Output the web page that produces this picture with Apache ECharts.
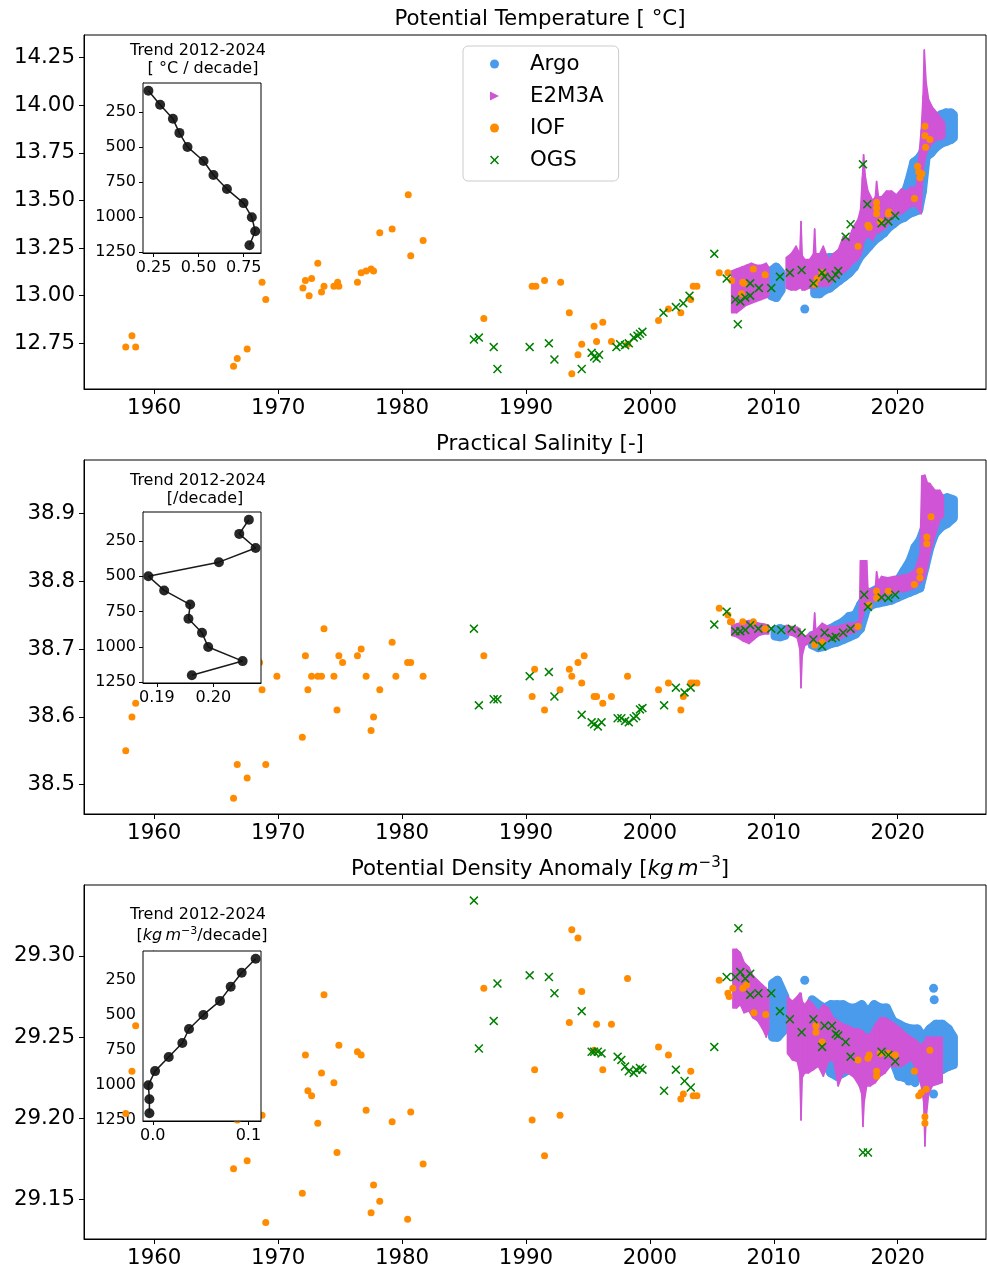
<!DOCTYPE html>
<html><head><meta charset="utf-8">
<script src="https://cdn.jsdelivr.net/npm/echarts@6/dist/echarts.min.js"></script>
<style>html,body{margin:0;padding:0;background:#fff}#c{width:987px;height:1271px}</style>
</head><body><div id="c"></div>
<script>
// ---------- tick labels ----------
const xTicks = [1960, 1970, 1980, 1990, 2000, 2010, 2020];
const tempTicks = [12.75, 13.00, 13.25, 13.50, 13.75, 14.00, 14.25];
const salTicks = [38.5, 38.6, 38.7, 38.8, 38.9];
const densTicks = [29.15, 29.20, 29.25, 29.30];
const depthTicks = [250, 500, 750, 1000, 1250];
const tempTrendTicks = [0.25, 0.50, 0.75];
const salTrendTicks = [0.19, 0.20];
const densTrendTicks = [0.0, 0.1];

// ---------- inset trend profiles ----------
const trendDepths = [100, 200, 300, 400, 500, 600, 700, 800, 900, 1000, 1100, 1200];
const tempTrend = [0.221, 0.286, 0.357, 0.393, 0.438, 0.527, 0.582, 0.657, 0.749, 0.795, 0.814, 0.782];
const salTrend = [0.2063, 0.2046, 0.2075, 0.2010, 0.1885, 0.1913, 0.1959, 0.1956, 0.1980, 0.1991, 0.2052, 0.1962];
const densTrend = [0.1076, 0.0930, 0.0815, 0.0703, 0.0529, 0.0379, 0.0309, 0.0167, 0.0024, -0.0046, -0.0035, -0.0035];

// ---------- Potential temperature ----------
const tempIOF = [[1957.7,12.73],[1958.2,12.79],[1958.5,12.73],[1966.4,12.63],[1966.7,12.67],[1967.5,12.72],
 [1968.7,13.07],[1969.0,12.98],[1972.0,13.04],[1972.2,13.08],[1972.5,13.00],[1972.7,13.09],[1973.2,13.17],[1973.5,13.02],[1973.7,13.05],
 [1974.5,13.05],[1974.8,13.07],[1974.9,13.05],[1976.4,13.07],[1976.7,13.12],[1977.1,13.13],[1977.5,13.14],[1977.7,13.13],
 [1978.2,13.33],[1979.2,13.35],[1980.5,13.53],[1980.7,13.21],[1981.7,13.29],[1986.6,12.88],
 [1990.5,13.05],[1990.8,13.05],[1991.5,13.08],[1992.8,13.07],[1993.5,12.91],[1993.7,12.59],[1994.2,12.69],[1994.5,12.745],
 [1995.5,12.84],[1995.7,12.76],[1996.2,12.86],[1996.9,12.76],[1998.2,12.745],
 [2000.7,12.87],[2001.5,12.93],[2002.5,12.91],[2003.3,12.98],[2003.5,13.05],[2003.8,13.05],
 [2005.6,13.12],[2006.3,13.12],[2006.6,13.08],[2007.4,13.01],[2007.5,13.07],[2007.6,13.065],[2008.35,13.14],[2009.3,13.11],
 [2013.3,13.06],[2013.5,13.09],[2013.9,13.12],[2016.8,13.26],[2017.6,13.37],[2017.7,13.36],
 [2018.3,13.43],[2018.3,13.46],[2018.3,13.49],[2018.6,13.39],[2019.25,13.43],[2019.3,13.44],
 [2021.35,13.51],[2021.6,13.68],[2021.7,13.65],[2021.8,13.62],[2021.95,13.64],
 [2022.2,13.89],[2022.2,13.84],[2022.25,13.78],[2022.6,13.82]];
const tempOGS = [[1985.8,12.77],[1986.2,12.78],[1987.4,12.73],[1987.7,12.615],[1990.3,12.73],[1991.85,12.75],[1992.3,12.665],
 [1994.5,12.615],[1995.3,12.70],[1995.5,12.68],[1995.7,12.67],[1995.9,12.69],
 [1997.3,12.73],[1997.6,12.745],[1998.0,12.74],[1998.3,12.75],[1998.7,12.78],[1999.0,12.79],[1999.2,12.80],[1999.4,12.81],
 [2001.1,12.91],[2002.1,12.94],[2002.7,12.96],[2003.2,13.00],
 [2005.2,13.22],[2006.2,13.09],[2006.9,12.98],[2007.1,12.85],[2007.3,12.97],[2007.7,12.99],[2008.1,13.00],[2008.1,13.065],[2008.8,13.04],[2009.8,13.04],
 [2010.5,13.10],[2011.3,13.12],[2012.25,13.135],
 [2013.2,13.065],[2013.9,13.12],[2014.1,13.10],[2014.7,13.09],[2015.0,13.11],[2015.2,13.13],
 [2015.8,13.31],[2016.2,13.375],[2017.2,13.69],[2017.55,13.48],[2018.7,13.38],[2019.25,13.39],[2019.8,13.42]];
const tempArgo = [[2009.8,13.00,13.13],[2010.2,12.99,13.15],[2010.6,13.03,13.12],
 [2013.3,13.01,13.10],[2013.7,13.01,13.10],[2014.1,13.03,13.12],[2014.5,13.04,13.20],[2014.9,13.06,13.20],[2015.3,13.08,13.22],
 [2015.7,13.10,13.24],[2016.1,13.12,13.25],[2016.5,13.15,13.28],[2016.9,13.20,13.32],[2017.3,13.23,13.35],[2017.7,13.26,13.38],
 [2018.1,13.29,13.40],[2018.5,13.31,13.42],[2018.9,13.33,13.44],[2019.3,13.36,13.46],[2019.7,13.38,13.48],[2020.1,13.40,13.50],
 [2020.5,13.41,13.52],[2020.9,13.43,13.60],[2021.3,13.44,13.70],[2021.7,13.45,13.72],[2022.0,13.55,13.75],[2022.3,13.73,13.80],
 [2022.7,13.75,13.88],[2023.1,13.78,13.92],[2023.5,13.80,13.95],[2023.9,13.81,13.96],[2024.3,13.82,13.96],[2024.5,13.83,13.95]];
const tempArgoPts = [[2012.5,12.93]];
const tempE2M3A = [[2006.6,12.91,13.13],[2007.0,12.91,13.14],[2007.4,12.93,13.15],[2007.8,12.95,13.16],[2008.2,12.96,13.17],
 [2008.6,12.97,13.16],[2009.0,12.98,13.16],[2009.4,12.99,13.17],[2009.6,13.00,13.15],
 [2011.0,13.04,13.20],[2011.4,13.03,13.22],[2011.8,13.03,13.26],[2012.1,13.04,13.22],[2012.2,13.04,13.39],[2012.3,13.03,13.21],
 [2012.5,13.03,13.19],[2012.9,13.04,13.19],[2013.2,13.04,13.22],[2013.3,13.04,13.35],[2013.4,13.05,13.22],[2013.7,13.05,13.22],
 [2014.0,13.05,13.26],[2014.4,13.05,13.19],[2014.8,13.08,13.22],[2015.2,13.10,13.24],
 [2015.6,13.12,13.31],[2016.0,13.14,13.29],[2016.4,13.17,13.36],[2016.8,13.19,13.40],[2017.0,13.21,13.45],[2017.15,13.24,13.62],
 [2017.25,13.28,13.74],[2017.4,13.30,13.62],[2017.6,13.31,13.55],[2018.0,13.29,13.50],[2018.2,13.32,13.52],[2018.3,13.33,13.60],
 [2018.45,13.33,13.52],[2018.7,13.34,13.52],[2019.1,13.36,13.55],[2019.5,13.40,13.55],
 [2019.9,13.42,13.53],[2020.3,13.43,13.56],[2020.7,13.45,13.55],[2021.1,13.47,13.57],[2021.5,13.47,13.57],[2021.9,13.43,13.87],
 [2022.05,13.65,14.05],[2022.15,13.70,14.29],[2022.3,13.74,14.12],[2022.5,13.77,14.03],[2022.8,13.80,13.99],[2023.2,13.82,13.96],
 [2023.5,13.82,13.93],[2023.8,13.83,13.91]];

// ---------- Practical salinity ----------
const salIOF = [[1957.7,38.55],[1958.2,38.60],[1958.5,38.62],[1966.4,38.48],[1966.7,38.53],[1967.5,38.51],[1968.5,38.68],[1968.7,38.64],[1969.0,38.53],[1969.9,38.66],
 [1971.95,38.57],[1972.2,38.69],[1972.4,38.64],[1972.7,38.66],[1973.2,38.66],[1973.5,38.66],[1973.7,38.73],
 [1974.5,38.66],[1974.75,38.61],[1974.9,38.69],[1975.2,38.68],[1976.4,38.69],[1976.7,38.70],[1977.1,38.66],[1977.5,38.58],[1977.7,38.60],[1978.2,38.64],
 [1979.2,38.71],[1979.5,38.66],[1980.45,38.68],[1980.7,38.68],[1981.7,38.66],[1986.6,38.69],
 [1990.5,38.63],[1990.7,38.67],[1991.5,38.61],[1992.75,38.64],[1993.5,38.67],[1993.7,38.66],[1994.2,38.68],[1994.5,38.65],[1994.7,38.69],
 [1995.5,38.63],[1995.7,38.63],[1996.2,38.62],[1996.9,38.63],[1998.2,38.66],
 [2000.7,38.64],[2001.5,38.65],[2002.5,38.61],[2002.7,38.63],[2003.3,38.65],[2003.5,38.65],[2003.8,38.65],
 [2005.6,38.76],[2006.3,38.75],[2006.5,38.74],[2006.6,38.74],[2007.5,38.74],[2008.35,38.74],[2009.3,38.73],
 [2013.3,38.706],[2013.9,38.71],[2016.8,38.733],[2017.7,38.765],[2018.3,38.775],[2018.3,38.785],[2019.25,38.785],[2021.35,38.795],
 [2021.8,38.805],[2021.8,38.815],[2022.35,38.855],[2022.35,38.865],[2022.7,38.895]];
const salOGS = [[1985.8,38.73],[1986.2,38.617],[1987.4,38.626],[1987.7,38.626],[1990.3,38.66],[1991.85,38.666],[1992.3,38.63],
 [1994.5,38.603],[1995.3,38.592],[1995.5,38.589],[1995.8,38.586],[1996.1,38.592],
 [1997.4,38.598],[1997.7,38.598],[1998.0,38.594],[1998.3,38.592],[1998.7,38.598],[1998.9,38.601],[1999.2,38.611],[1999.4,38.613],
 [2001.15,38.617],[2002.1,38.643],[2002.8,38.636],[2003.3,38.643],
 [2005.2,38.736],[2006.2,38.755],[2006.9,38.726],[2007.3,38.726],[2007.7,38.728],[2008.1,38.735],[2008.76,38.73],[2009.8,38.73],[2010.6,38.728],[2011.45,38.73],[2012.25,38.724],
 [2013.2,38.714],[2013.9,38.704],[2014.1,38.724],[2014.7,38.716],[2015.0,38.718],[2015.6,38.724],[2016.2,38.73],
 [2017.3,38.78],[2017.6,38.762],[2018.7,38.776],[2019.25,38.775],[2019.8,38.78]];
const salArgo = [[2010.1,38.719,38.728],[2010.5,38.718,38.73],[2010.9,38.72,38.728],
 [2013.1,38.706,38.72],[2013.6,38.702,38.722],[2014.1,38.704,38.726],[2014.6,38.708,38.73],[2015.1,38.71,38.735],[2015.6,38.714,38.74],
 [2016.1,38.718,38.748],[2016.6,38.722,38.75],[2017.0,38.73,38.765],[2017.5,38.76,38.78],[2018.0,38.766,38.785],[2018.5,38.768,38.79],
 [2019.0,38.77,38.79],[2019.5,38.772,38.795],[2020.0,38.776,38.80],[2020.5,38.78,38.815],[2021.0,38.784,38.83],[2021.4,38.787,38.85],
 [2021.8,38.79,38.86],[2022.2,38.82,38.88],[2022.6,38.85,38.90],[2023.0,38.87,38.915],[2023.5,38.88,38.92],[2024.0,38.885,38.923],[2024.5,38.893,38.92]];
const salArgoPts = [];
const salE2M3A = [[2006.6,38.72,38.735],[2007.0,38.718,38.737],[2007.5,38.712,38.74],[2008.0,38.708,38.742],[2008.4,38.714,38.74],
 [2008.8,38.72,38.738],[2009.2,38.722,38.737],[2009.6,38.722,38.735],
 [2011.0,38.722,38.735],[2011.5,38.72,38.733],[2011.9,38.716,38.732],[2012.1,38.70,38.73],[2012.2,38.643,38.725],[2012.3,38.69,38.72],
 [2012.5,38.705,38.718],[2012.8,38.708,38.722],[2013.2,38.712,38.726],[2013.3,38.712,38.753],[2013.4,38.712,38.728],[2013.9,38.71,38.738],
 [2014.4,38.712,38.733],[2015.0,38.714,38.733],[2015.5,38.716,38.735],[2016.0,38.722,38.738],[2016.5,38.724,38.738],[2016.9,38.73,38.742],
 [2017.0,38.735,38.83],[2017.5,38.77,38.83],[2017.6,38.768,38.79],[2017.9,38.768,38.787],[2018.2,38.772,38.79],[2018.3,38.772,38.814],
 [2018.45,38.772,38.80],[2018.7,38.772,38.807],[2019.2,38.78,38.805],[2019.7,38.782,38.807],[2020.2,38.784,38.808],
 [2020.8,38.786,38.81],[2021.4,38.79,38.817],[2021.8,38.797,38.84],[2021.95,38.80,38.955],[2022.2,38.805,38.956],[2022.4,38.82,38.945],
 [2022.6,38.84,38.944],[2023.0,38.866,38.934],[2023.4,38.89,38.934],[2023.7,38.895,38.925]];

// ---------- Potential density anomaly ----------
const densIOF = [[1957.7,29.203],[1958.2,29.229],[1958.5,29.257],[1966.4,29.169],[1966.7,29.199],[1967.5,29.174],[1968.7,29.202],[1969.0,29.136],
 [1971.95,29.154],[1972.2,29.239],[1972.4,29.217],[1972.7,29.214],[1973.2,29.197],[1973.5,29.228],[1973.7,29.276],
 [1974.5,29.222],[1974.75,29.179],[1974.9,29.245],[1976.4,29.241],[1976.7,29.239],[1977.1,29.205],[1977.5,29.142],[1977.7,29.159],[1978.2,29.149],
 [1979.2,29.198],[1980.45,29.138],[1980.7,29.204],[1981.7,29.172],[1986.6,29.28],
 [1990.5,29.199],[1990.7,29.23],[1991.5,29.177],[1992.75,29.202],[1993.5,29.259],[1993.7,29.316],[1994.2,29.311],[1994.5,29.278],
 [1995.5,29.242],[1995.7,29.258],[1996.2,29.23],[1996.9,29.258],[1998.2,29.286],
 [2000.7,29.244],[2001.5,29.239],[2002.5,29.212],[2002.7,29.215],[2003.3,29.229],[2003.5,29.214],[2003.8,29.214],
 [2005.6,29.285],[2006.3,29.277],[2006.4,29.275],[2006.7,29.28],[2007.5,29.28],[2007.8,29.282],[2008.4,29.265],[2009.35,29.264],
 [2013.4,29.257],[2013.4,29.253],[2013.9,29.247],[2016.8,29.236],[2017.6,29.237],[2017.7,29.239],[2018.3,29.229],[2018.3,29.226],
 [2018.6,29.24],[2019.25,29.24],[2019.8,29.239],[2021.35,29.229],[2021.7,29.214],[2021.9,29.216],[2022.3,29.218],[2022.2,29.201],[2022.2,29.197],[2022.6,29.242]];
const densOGS = [[1985.8,29.334],[1986.2,29.243],[1987.4,29.26],[1987.7,29.283],[1990.3,29.288],[1991.85,29.287],[1992.3,29.277],
 [1994.5,29.266],[1995.3,29.241],[1995.5,29.241],[1995.8,29.241],[1996.1,29.24],
 [1997.4,29.238],[1997.7,29.236],[1998.0,29.232],[1998.3,29.229],[1998.7,29.228],[1998.9,29.23],[1999.2,29.231],[1999.4,29.23],
 [2001.15,29.217],[2002.1,29.23],[2002.8,29.223],[2003.3,29.219],
 [2005.2,29.244],[2006.2,29.287],[2006.9,29.287],[2007.14,29.317],[2007.3,29.29],[2007.7,29.286],[2008.1,29.289],[2008.1,29.276],[2008.76,29.277],[2009.8,29.277],
 [2010.5,29.266],[2011.3,29.261],[2012.25,29.253],[2013.2,29.261],[2013.9,29.244],[2014.1,29.257],[2014.7,29.257],[2015.0,29.252],[2015.2,29.251],[2015.8,29.247],[2016.2,29.238],
 [2017.2,29.179],[2017.6,29.179],[2018.7,29.241],[2019.25,29.239],[2019.8,29.235]];
const densArgo = [[2009.9,29.25,29.283],[2010.3,29.25,29.285],[2010.9,29.255,29.275],
 [2013.1,29.24,29.273],[2013.6,29.242,29.27],[2014.1,29.235,29.268],[2014.6,29.228,29.27],[2015.1,29.226,29.27],[2015.6,29.228,29.27],
 [2016.1,29.23,29.268],[2016.6,29.23,29.268],[2017.1,29.232,29.27],[2017.6,29.232,29.265],[2018.1,29.234,29.27],[2018.6,29.236,29.268],
 [2019.1,29.236,29.268],[2019.6,29.236,29.26],[2020.1,29.226,29.258],[2020.6,29.225,29.256],[2021.1,29.225,29.255],[2021.6,29.225,29.255],
 [2022.1,29.228,29.25],[2022.6,29.228,29.255],[2023.1,29.23,29.258],[2023.6,29.23,29.258],[2024.1,29.232,29.255],[2024.5,29.233,29.25]];
const densArgoPts = [[2012.5,29.285],[2022.9,29.28],[2022.95,29.273],[2022.9,29.215],[2020.9,29.223],[2021.4,29.222],[2015.2,29.227]];
const densE2M3A = [[2006.7,29.268,29.304],[2007.0,29.268,29.304],[2007.3,29.27,29.302],[2007.6,29.265,29.296],[2008.0,29.266,29.293],
 [2008.3,29.262,29.288],[2008.7,29.26,29.285],[2009.1,29.255,29.282],[2009.4,29.25,29.28],[2009.6,29.255,29.278],
 [2011.1,29.24,29.275],[2011.5,29.236,29.272],[2011.9,29.235,29.275],[2012.1,29.228,29.277],[2012.2,29.199,29.277],[2012.3,29.225,29.272],
 [2012.5,29.228,29.27],[2012.8,29.228,29.273],
 [2013.2,29.23,29.27],[2013.6,29.232,29.266],[2014.0,29.226,29.27],[2014.4,29.235,29.268],[2014.8,29.236,29.262],[2015.2,29.22,29.26],
 [2015.6,29.228,29.258],[2016.0,29.228,29.257],[2016.5,29.225,29.255],[2016.9,29.22,29.255],[2017.1,29.215,29.254],[2017.2,29.195,29.254],
 [2017.3,29.21,29.252],[2017.5,29.22,29.252],
 [2017.8,29.22,29.252],[2018.2,29.222,29.258],[2018.6,29.226,29.262],[2019.0,29.228,29.262],[2019.4,29.232,29.26],[2019.8,29.232,29.258],
 [2020.3,29.232,29.255],[2020.7,29.234,29.252],[2021.1,29.236,29.25],[2021.5,29.23,29.248],[2021.9,29.22,29.245],[2022.1,29.21,29.247],
 [2022.2,29.183,29.247],[2022.3,29.20,29.25],[2022.5,29.215,29.25],[2022.8,29.22,29.25],[2023.2,29.221,29.25],[2023.6,29.222,29.25]];

// ---------- styling / layout ----------
const FONT = 'DejaVu Sans';
const C_ARGO = '#4a9bec', C_E2 = '#d055d6', C_IOF = '#ff8c00', C_OGS = '#008000';
const X_SYMBOL = 'path://M0,1.2L1.2,0L5,3.8L8.8,0L10,1.2L6.2,5L10,8.8L8.8,10L5,6.2L1.2,10L0,8.8L3.8,5Z';
const TRI_SYMBOL = 'path://M0,0L10,5L0,10Z';
const XMIN = 1954.33, XMAX = 2027.13;
const panels = [
  {top: 35, ymin: 12.51, ymax: 14.369, ticks: tempTicks, dec: 2, iof: tempIOF, ogs: tempOGS, argo: tempArgo, argoPts: tempArgoPts, e2: tempE2M3A,
   inset: {top: 83, h: 170, xmin: 0.191, xmax: 0.846, ticks: tempTrendTicks, dec: 2, vals: tempTrend}},
  {top: 460, ymin: 38.4569, ymax: 38.9785, ticks: salTicks, dec: 1, iof: salIOF, ogs: salOGS, argo: salArgo, argoPts: salArgoPts, e2: salE2M3A,
   inset: {top: 512, h: 171, xmin: 0.18755, xmax: 0.20845, ticks: salTrendTicks, dec: 2, vals: salTrend}},
  {top: 885, ymin: 29.1258, ymax: 29.3436, ticks: densTicks, dec: 2, iof: densIOF, ogs: densOGS, argo: densArgo, argoPts: densArgoPts, e2: densE2M3A,
   inset: {top: 951, h: 170, xmin: -0.0102, xmax: 0.1132, ticks: densTrendTicks, dec: 1, vals: densTrend}}
];

function bandRenderer(arr, color, lw) {
  return function (params, api) {
    const i = params.dataIndex, a = arr[i], b = arr[i + 1];
    const style = {fill: color, stroke: color, lineWidth: lw, lineJoin: 'round'};
    if (!b || b[0] - a[0] > 1.0) {
      const prev = arr[i - 1];
      if (!prev || a[0] - prev[0] > 1.0) {
        const p = api.coord([a[0], a[1]]), q = api.coord([a[0], a[2]]);
        return {type: 'line', shape: {x1: p[0], y1: p[1], x2: q[0], y2: q[1]}, style: {stroke: color, lineWidth: lw, lineCap: 'round'}};
      }
      return null;
    }
    const pts = [api.coord([a[0], a[1]]), api.coord([a[0], a[2]]), api.coord([b[0], b[2]]), api.coord([b[0], b[1]])];
    return {type: 'polygon', shape: {points: pts}, style: style};
  };
}

const grids = [], xAxes = [], yAxes = [], series = [];
const tickFont = {fontSize: 21.33, fontFamily: FONT, color: '#000'};
panels.forEach((p, k) => {
  grids.push({left: 84, width: 902, top: p.top, height: 354, show: true, borderColor: '#000', borderWidth: 1, backgroundColor: 'transparent'});
  xAxes.push({gridIndex: k, type: 'value', min: XMIN, max: XMAX, splitLine: {show: false},
    axisLine: {show: true, lineStyle: {color: '#000', width: 1}},
    axisTick: {show: true, length: 5, customValues: xTicks, lineStyle: {color: '#000'}},
    axisLabel: Object.assign({customValues: xTicks, margin: 9, formatter: v => String(Math.round(v))}, tickFont)});
  yAxes.push({gridIndex: k, type: 'value', min: p.ymin, max: p.ymax, splitLine: {show: false},
    axisLine: {show: true, lineStyle: {color: '#000', width: 1}},
    axisTick: {show: true, length: 5, customValues: p.ticks, lineStyle: {color: '#000'}},
    axisLabel: Object.assign({customValues: p.ticks, margin: 9, formatter: v => v.toFixed(p.dec)}, tickFont)});
  series.push({name: 'Argo', type: 'custom', xAxisIndex: k, yAxisIndex: k, z: 1, clip: true, silent: true,
    itemStyle: {color: C_ARGO}, renderItem: bandRenderer(p.argo, C_ARGO, 9), encode: {x: 0, y: [1, 2]}, data: p.argo});
  series.push({name: 'Argo', type: 'scatter', xAxisIndex: k, yAxisIndex: k, z: 1, symbol: 'circle', symbolSize: 9,
    itemStyle: {color: C_ARGO, opacity: 1}, data: p.argoPts});
  series.push({name: 'E2M3A', type: 'custom', xAxisIndex: k, yAxisIndex: k, z: 2, clip: true, silent: true,
    itemStyle: {color: C_E2}, renderItem: bandRenderer(p.e2, C_E2, 1.5), encode: {x: 0, y: [1, 2]}, data: p.e2});
  series.push({name: 'IOF', type: 'scatter', xAxisIndex: k, yAxisIndex: k, z: 3, symbol: 'circle', symbolSize: 7,
    itemStyle: {color: C_IOF, opacity: 1}, data: p.iof});
  series.push({name: 'OGS', type: 'scatter', xAxisIndex: k, yAxisIndex: k, z: 4, symbol: X_SYMBOL, symbolSize: 9,
    itemStyle: {color: C_OGS, opacity: 1}, data: p.ogs});
});
const insetFont = {fontSize: 16, fontFamily: FONT, color: '#000'};
panels.forEach((p, k) => {
  const g = 3 + k, s = p.inset;
  grids.push({left: 143, width: 118, top: s.top, height: s.h, show: true, borderColor: '#000', borderWidth: 1, backgroundColor: '#fff', z: 5});
  xAxes.push({gridIndex: g, type: 'value', min: s.xmin, max: s.xmax, splitLine: {show: false},
    axisLine: {show: true, lineStyle: {color: '#000', width: 1}},
    axisTick: {show: true, length: 4, customValues: s.ticks, lineStyle: {color: '#000'}},
    axisLabel: Object.assign({customValues: s.ticks, margin: 7, formatter: v => v.toFixed(s.dec)}, insetFont)});
  yAxes.push({gridIndex: g, type: 'value', min: 45, max: 1255, inverse: true, splitLine: {show: false},
    axisLine: {show: true, lineStyle: {color: '#000', width: 1}},
    axisTick: {show: true, length: 4, customValues: depthTicks, lineStyle: {color: '#000'}},
    axisLabel: Object.assign({customValues: depthTicks, margin: 7, formatter: v => String(v)}, insetFont)});
  series.push({type: 'line', xAxisIndex: g, yAxisIndex: g, z: 10, symbol: 'circle', symbolSize: 10, showSymbol: true,
    lineStyle: {color: '#1a1a1a', width: 1.5}, itemStyle: {color: '#111', opacity: 0.9},
    data: s.vals.map((v, i) => [v, trendDepths[i]])});
});

function txt(x, y, text, size, extra) {
  return {type: 'text', x: x, y: y, z: 100, style: Object.assign({text: text, fontSize: size, fontFamily: FONT, fill: '#000', align: 'center', verticalAlign: 'middle'}, extra || {})};
}
const graphics = [
  txt(540, 19, 'Potential Temperature [ °C]', 21.33),
  txt(540, 444, 'Practical Salinity [-]', 21.33),
  txt(540, 869, '{n|Potential Density Anomaly [}{i|kg\u2009m}{s|−3}{n|]}', 21.33, {rich: {
    n: {fontSize: 21.33, fontFamily: FONT, lineHeight: 26},
    i: {fontSize: 21.33, fontFamily: FONT, fontStyle: 'italic', lineHeight: 26},
    s: {fontSize: 15, fontFamily: FONT, verticalAlign: 'top', lineHeight: 18}}}),
  txt(198, 51, 'Trend 2012-2024', 16),
  txt(203, 69, '[ °C / decade]', 16),
  txt(198, 481, 'Trend 2012-2024', 16),
  txt(205, 499, '[/decade]', 16),
  txt(198, 915, 'Trend 2012-2024', 16),
  txt(202, 936, '{n|[}{i|kg\u2009m}{s|−3}{n|/decade]}', 16, {rich: {
    n: {fontSize: 16, fontFamily: FONT, lineHeight: 20},
    i: {fontSize: 16, fontFamily: FONT, fontStyle: 'italic', lineHeight: 20},
    s: {fontSize: 11, fontFamily: FONT, verticalAlign: 'top', lineHeight: 13}}})
];

const chart = echarts.init(document.getElementById('c'), null, {renderer: 'canvas'});
chart.setOption({
  animation: false,
  backgroundColor: '#fff',
  grid: grids, xAxis: xAxes, yAxis: yAxes, series: series, graphic: graphics,
  legend: {orient: 'vertical', left: 463, top: 46, padding: [6, 15, 9, 27], itemGap: 8, itemWidth: 9, itemHeight: 9,
    selectedMode: false, backgroundColor: 'rgba(255,255,255,0.85)', borderColor: '#cccccc', borderWidth: 1, borderRadius: 5, z: 20,
    textStyle: {fontSize: 21.33, fontFamily: FONT, color: '#000', lineHeight: 24, padding: [0, 0, 0, 26]},
    data: [{name: 'Argo', icon: 'circle', itemStyle: {color: C_ARGO}},
           {name: 'E2M3A', icon: TRI_SYMBOL, itemStyle: {color: C_E2}},
           {name: 'IOF', icon: 'circle', itemStyle: {color: C_IOF}},
           {name: 'OGS', icon: X_SYMBOL, itemStyle: {color: C_OGS}}]}
});
</script></body></html>
